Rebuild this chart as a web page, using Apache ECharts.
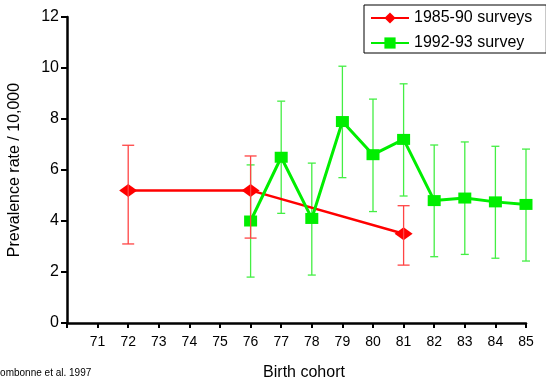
<!DOCTYPE html>
<html>
<head>
<meta charset="utf-8">
<script src="https://cdn.jsdelivr.net/npm/echarts@6/dist/echarts.min.js"></script>
<style>
  html, body { margin: 0; padding: 0; background: #fff; }
  #chart { width: 546px; height: 381px; }
</style>
</head>
<body>
<div id="chart"></div>
<script>
// birth cohorts (19xx) and prevalence per 10,000 with confidence limits
const cohorts8590 = [72, 76, 81];
const rate8590 = [5.2, 5.2, 3.5];
const low8590 = [3.1, 3.33, 2.27];
const high8590 = [6.97, 6.55, 4.6];

const cohorts9293 = [76, 77, 78, 79, 80, 81, 82, 83, 84, 85];
const rate9293 = [4.0, 6.5, 4.1, 7.9, 6.6, 7.2, 4.8, 4.9, 4.75, 4.65];
const low9293 = [1.8, 4.3, 1.88, 5.7, 4.37, 4.98, 2.6, 2.69, 2.54, 2.43];
const high9293 = [6.2, 8.7, 6.27, 10.07, 8.78, 9.38, 6.98, 7.1, 6.93, 6.82];

const yTicks = [0, 2, 4, 6, 8, 10, 12];

const FONT = '"Liberation Sans", Arial, sans-serif';

const pairs = (xs, ys) => xs.map((x, i) => [x, ys[i]]);
const bars = (xs, lo, hi) => xs.map((x, i) => [x, lo[i], hi[i]]);

// vertical error bar with caps
const errorBar = (capHalf, color) => (params, api) => {
	const lo = api.coord([api.value(0), api.value(1)]);
	const hi = api.coord([api.value(0), api.value(2)]);
	const style = { stroke: color, lineWidth: 1.3 };
	return {
		type: 'group',
		children: [
			{ type: 'line', shape: { x1: lo[0], y1: lo[1], x2: hi[0], y2: hi[1] }, style },
			{ type: 'line', shape: { x1: lo[0] - capHalf, y1: lo[1], x2: lo[0] + capHalf, y2: lo[1] }, style },
			{ type: 'line', shape: { x1: hi[0] - capHalf, y1: hi[1], x2: hi[0] + capHalf, y2: hi[1] }, style },
		],
	};
};

const chart = echarts.init(document.getElementById('chart'));

const option = {
	animation: false,
	backgroundColor: '#fff',
	textStyle: { fontFamily: FONT, color: '#000' },
	grid: { left: 67, right: 20, top: 17, bottom: 58, containLabel: false, outerBoundsMode: 'none' },
	legend: {
		orient: 'vertical',
		left: 364,
		top: 5,
		padding: [5, 14, 2, 6],
		itemGap: 9,
		itemWidth: 38,
		itemHeight: 14,
		borderColor: '#000',
		borderWidth: 1,
		borderRadius: 0,
		backgroundColor: '#fff',
		textStyle: { fontFamily: FONT, fontSize: 16, color: '#000' },
		data: ['1985-90 surveys', '1992-93 survey'],
	},
	xAxis: {
		type: 'value',
		min: 70,
		max: 85,
		interval: 1,
		name: 'Birth cohort',
		nameLocation: 'middle',
		nameGap: 42,
		nameTextStyle: { fontFamily: FONT, fontSize: 16, color: '#000', padding: [0, 0, 0, 15] },
		axisLine: { lineStyle: { color: '#000', width: 2.5 } },
		axisTick: { show: true, length: 5, lineStyle: { color: '#000', width: 2 } },
		axisLabel: {
			margin: 12,
			fontFamily: FONT,
			fontSize: 14,
			color: '#000',
			formatter: (v) => (v === 70 ? '' : String(v)),
		},
		splitLine: { show: false },
	},
	yAxis: {
		type: 'value',
		min: yTicks[0],
		max: yTicks[yTicks.length - 1],
		interval: 2,
		name: 'Prevalence rate / 10,000',
		nameLocation: 'middle',
		nameGap: 44,
		nameTextStyle: { fontFamily: FONT, fontSize: 16, color: '#000' },
		axisLine: { show: true, lineStyle: { color: '#000', width: 2.5 } },
		axisTick: { show: true, length: 6, lineStyle: { color: '#000', width: 2 } },
		axisLabel: { margin: 8, fontFamily: FONT, fontSize: 16, color: '#000' },
		splitLine: { show: false },
	},
	graphic: [
		{
			type: 'text',
			left: -6,
			top: 368,
			style: { text: 'Fombonne et al. 1997', font: '10px ' + FONT, fill: '#000' },
		},
	],
	series: [
		{
			type: 'custom',
			name: 'err9293',
			z: 1,
			renderItem: errorBar(4, '#44ee44'),
			data: bars(cohorts9293, low9293, high9293),
			encode: { x: 0, y: [1, 2] },
		},
		{
			type: 'line',
			name: '1985-90 surveys',
			z: 2,
			data: pairs(cohorts8590, rate8590),
			symbol: 'diamond',
			symbolSize: [18, 13],
			lineStyle: { color: '#ff0000', width: 2.5 },
			itemStyle: { color: '#ff0000' },
		},
		{
			type: 'line',
			name: '1992-93 survey',
			z: 3,
			data: pairs(cohorts9293, rate9293),
			symbol: 'rect',
			symbolSize: [13, 11],
			lineStyle: { color: '#00ee00', width: 3 },
			itemStyle: { color: '#00ee00' },
		},
		{
			type: 'custom',
			name: 'err8590',
			z: 4,
			renderItem: errorBar(6, '#ff4444'),
			data: bars(cohorts8590, low8590, high8590),
			encode: { x: 0, y: [1, 2] },
		},
	],
};

chart.setOption(option);
</script>
</body>
</html>
